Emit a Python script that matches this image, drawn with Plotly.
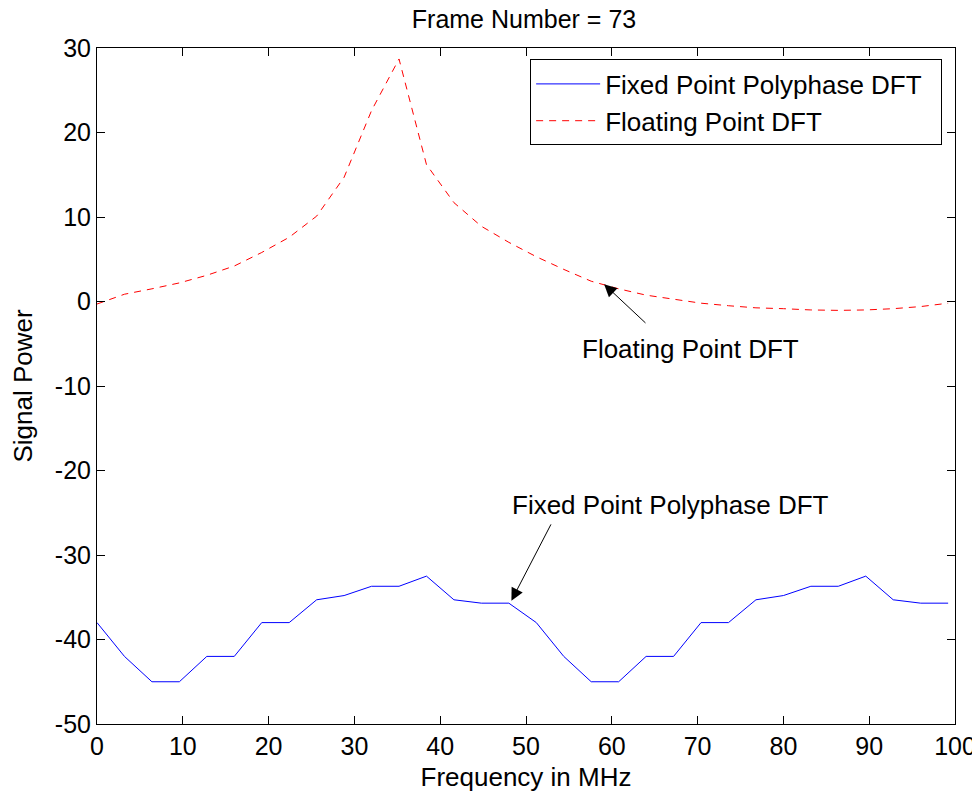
import plotly.graph_objects as go

freq_mhz = [0.0, 3.2, 6.4, 9.6, 12.8, 16.0, 19.2, 22.4, 25.6, 28.8, 32.0, 35.2,
            38.4, 41.6, 44.8, 48.0, 51.2, 54.4, 57.6, 60.8, 64.0, 67.2, 70.4, 73.6,
            76.8, 80.0, 83.2, 86.4, 89.6, 92.8, 96.0, 99.2]

fixed_polyphase = [-38, -42, -45, -45, -42, -42, -38, -38, -35.3, -34.8, -33.7, -33.7,
                   -32.5, -35.3, -35.7, -35.7, -38, -42, -45, -45, -42, -42, -38, -38,
                   -35.3, -34.8, -33.7, -33.7, -32.5, -35.3, -35.7, -35.7]

floating_dft = [-0.3, 0.86, 1.5, 2.2, 3.1, 4.2, 5.8, 7.6, 10.1, 14.7, 22.6, 28.7,
                16.2, 11.7, 8.9, 7.0, 5.3, 3.8, 2.4, 1.5, 0.75, 0.27, -0.2, -0.5,
                -0.75, -0.85, -1.0, -1.05, -1.0, -0.85, -0.6, -0.2]

x_tick_vals = [0, 10, 20, 30, 40, 50, 60, 70, 80, 90, 100]
x_tick_text = ["0", "10", "20", "30", "40", "50", "60", "70", "80", "90", "100"]
y_tick_vals = [-50, -40, -30, -20, -10, 0, 10, 20, 30]
y_tick_text = ["-50", "-40", "-30", "-20", "-10", "0", "10", "20", "30"]

series_names = ["Fixed Point Polyphase DFT", "Floating Point DFT"]
title_text = "Frame Number = 73"
x_label = "Frequency in MHz"
y_label = "Signal Power"

FONT = "Liberation Sans, Arial, Helvetica, sans-serif"
FS = 26
PAD = "\u00a0\u00a0"

# the page adds an 8px body margin, so the figure is sized to fit the window
W, H = 972, 785

fig = go.Figure()
fig.add_trace(go.Scatter(x=freq_mhz, y=fixed_polyphase, mode="lines",
                         name=series_names[0] + PAD,
                         line=dict(color="#0000ff", width=1)))
fig.add_trace(go.Scatter(x=freq_mhz, y=floating_dft, mode="lines",
                         name=series_names[1] + PAD,
                         line=dict(color="#ff0000", width=1, dash="7px,6px")))

# arrows (no text)
fig.add_annotation(x=59.1, y=2.05, ax=64.1, ay=-2.7, xref="x", yref="y",
                   axref="x", ayref="y", text="", showarrow=True,
                   arrowhead=2, arrowsize=2.5, arrowwidth=1, arrowcolor="black")
fig.add_annotation(x=48.3, y=-35.4, ax=53.0, ay=-26.2, xref="x", yref="y",
                   axref="x", ayref="y", text="", showarrow=True,
                   arrowhead=2, arrowsize=2.5, arrowwidth=1, arrowcolor="black")
# labels
fig.add_annotation(x=69.2, y=-5.6, xref="x", yref="y", text=series_names[1],
                   showarrow=False, font=dict(size=FS, color="black", family=FONT))
fig.add_annotation(x=66.8, y=-24.05, xref="x", yref="y", text=series_names[0],
                   showarrow=False, font=dict(size=FS, color="black", family=FONT))

axis_common = dict(showline=True, linecolor="black", linewidth=1, mirror="ticks",
                   ticks="inside", ticklen=8, tickcolor="black", tickwidth=1,
                   showgrid=False, zeroline=False, automargin=False,
                   tickfont=dict(size=FS - 1, color="black", family=FONT))

fig.update_xaxes(range=[0, 100], tickmode="array", tickvals=x_tick_vals,
                 ticktext=x_tick_text,
                 title=dict(text=x_label, font=dict(size=FS, color="black", family=FONT),
                            standoff=8),
                 **axis_common)
fig.update_yaxes(range=[-50, 30], tickmode="array", tickvals=y_tick_vals,
                 ticktext=y_tick_text,
                 title=dict(text=y_label, font=dict(size=FS, color="black", family=FONT),
                            standoff=14),
                 **axis_common)

fig.update_layout(
    width=W, height=H,
    margin=dict(l=89, r=25, t=40, b=69, pad=0),
    paper_bgcolor="white", plot_bgcolor="white",
    font=dict(family=FONT, size=FS, color="black"),
    title=dict(text=title_text, x=516 / W, xanchor="center", y=1 - 11 / H,
               yanchor="middle", font=dict(size=FS - 1, color="black", family=FONT)),
    showlegend=True,
    legend=dict(x=0.985, xanchor="right", y=0.983, yanchor="top",
                bordercolor="black", borderwidth=1, bgcolor="white",
                font=dict(size=FS, color="black", family=FONT),
                tracegroupgap=0, itemwidth=64),
)

fig.write_html("out.html")
